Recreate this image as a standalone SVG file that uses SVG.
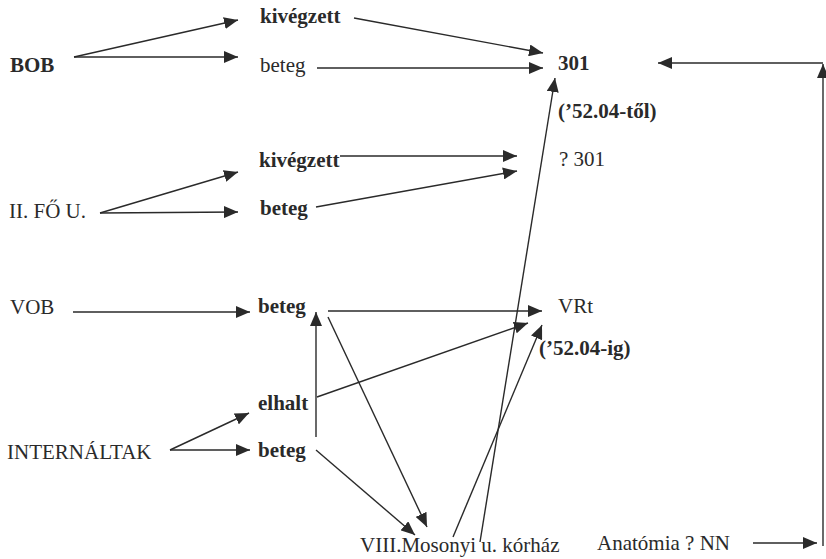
<svg xmlns="http://www.w3.org/2000/svg" width="826" height="559" viewBox="0 0 826 559">
<defs>
<marker id="ah" markerUnits="userSpaceOnUse" markerWidth="15" markerHeight="12" refX="14" refY="6" orient="auto">
<path d="M0,0 L14,6 L0,12 z" fill="#2a2a2a"/>
</marker>
<style>
text{font-family:"Liberation Serif","Times New Roman",serif;font-size:21px;fill:#2a2a2a}
.b{font-weight:bold}
.c line{stroke:#2a2a2a;stroke-width:1.4;marker-end:url(#ah)}
</style>
</defs>
<rect width="826" height="559" fill="#ffffff"/>
<g class="c" id="connectors">
<line x1="74" y1="57" x2="238" y2="20"/>
<line x1="74" y1="57" x2="238" y2="57"/>
<line x1="354" y1="18" x2="543" y2="53"/>
<line x1="317" y1="68" x2="543" y2="68"/>
<line x1="100" y1="213" x2="238" y2="172"/>
<line x1="100" y1="213" x2="238" y2="212"/>
<line x1="340" y1="156" x2="517" y2="156"/>
<line x1="316" y1="207" x2="517" y2="171"/>
<line x1="73" y1="312" x2="250" y2="312"/>
<line x1="328" y1="311" x2="542" y2="311"/>
<line x1="328" y1="317" x2="427" y2="527"/>
<line x1="316" y1="437" x2="316" y2="312"/>
<line x1="317" y1="397" x2="528" y2="323"/>
<line x1="170" y1="450" x2="249" y2="413"/>
<line x1="170" y1="450" x2="250" y2="450"/>
<line x1="316" y1="450" x2="415" y2="535"/>
<line x1="453" y1="537" x2="542" y2="325"/>
<line x1="480" y1="542" x2="555" y2="78"/>
<line x1="753" y1="543" x2="817" y2="543"/>
<line x1="823" y1="546" x2="823" y2="64"/>
<line x1="823" y1="63" x2="658" y2="63"/>
</g>
<g id="n-bob"><text class="b" x="10" y="72">BOB</text></g>
<g id="n-kivegzett1"><text class="b" x="260" y="23">kivégzett</text></g>
<g id="n-beteg1"><text x="260" y="72">beteg</text></g>
<g id="n-301"><text class="b" x="558" y="70">301</text></g>
<g id="n-tol"><text class="b" x="558" y="118">(’52.04-től)</text></g>
<g id="n-q301"><text x="559" y="166">? 301</text></g>
<g id="n-fou"><text x="9" y="218">II. FŐ U.</text></g>
<g id="n-kivegzett2"><text class="b" x="259" y="167">kivégzett</text></g>
<g id="n-beteg2"><text class="b" x="260" y="215">beteg</text></g>
<g id="n-vob"><text x="10" y="314">VOB</text></g>
<g id="n-beteg3"><text class="b" x="258" y="313">beteg</text></g>
<g id="n-vrt"><text x="558" y="313">VRt</text></g>
<g id="n-ig"><text class="b" x="539" y="355">(’52.04-ig)</text></g>
<g id="n-elhalt"><text class="b" x="258" y="410">elhalt</text></g>
<g id="n-int"><text x="7" y="459">INTERNÁLTAK</text></g>
<g id="n-beteg4"><text class="b" x="258" y="457">beteg</text></g>
<g id="n-mosonyi"><text x="360" y="552">VIII.Mosonyi u. kórház</text></g>
<g id="n-anatomia"><text x="597" y="550">Anatómia ? NN</text></g>
</svg>
